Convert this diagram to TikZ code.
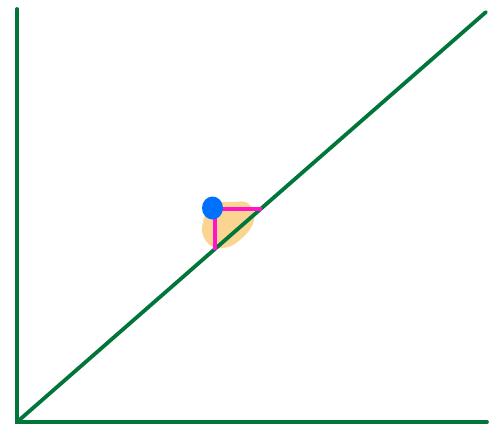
\documentclass[tikz,border=0pt]{standalone}
\begin{document}
\begin{tikzpicture}[x=1pt,y=-1pt,
  axis/.style={line width=3.8pt, color={rgb,255:red,0;green,118;blue,58}},
  mag/.style={draw={rgb,255:red,255;green,20;blue,200}, line width=4pt}]
\useasboundingbox (0,0) rectangle (499,424);
\coordinate (O) at (17,422);
\coordinate (Ytop) at (17,9);
\coordinate (Xend) at (487,422);
\coordinate (D) at (486,12);
\fill[color={rgb,255:red,250;green,212;blue,145}] plot[smooth cycle, tension=0.8] coordinates {(214,205) (232,202) (249,204) (254,220) (241,239) (222,248) (206,241) (203,222)};
\draw[axis, line cap=round] (Ytop) -- (O) -- (Xend);
\draw[axis, line cap=round] (O) -- (D);
\coordinate (A) at (215,250);
\coordinate (B) at (215,209);
\coordinate (C) at (262,209);
\draw[mag] (A) -- (B) -- (C);
\fill[color={rgb,255:red,0;green,112;blue,255}] (212.5,208) ellipse (10.5 and 11.5);
\end{tikzpicture}
\end{document}
